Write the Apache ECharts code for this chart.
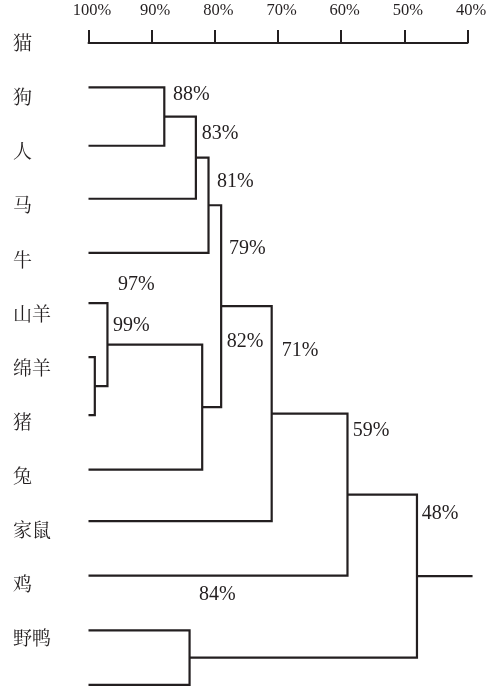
<!DOCTYPE html>
<html>
<head>
<meta charset="utf-8">
<title>细胞色素c 相似度聚类图</title>
<script src="https://cdn.jsdelivr.net/npm/echarts@6/dist/echarts.min.js"></script>
<style>
  html, body { margin: 0; padding: 0; background: #ffffff; }
  #chart { width: 490px; height: 692px; }
</style>
</head>
<body>
<div id="chart"></div>
<script>
// Species names, one per row (row 0 sits on the scale line)
const species = ['猫', '狗', '人', '马', '牛', '山羊', '绵羊', '猪', '兔', '家鼠', '鸡', '野鸭'];

// Row of every leaf branch of the tree, counted in species rows
const leafRows = [0.82, 1.9, 2.88, 3.88, 4.81, 5.81, 6.88, 7.89, 8.84, 9.85, 10.86, 11.87];

// Similarity scale ticks (%)
const scaleTicks = [100, 90, 80, 70, 60, 50, 40];

// Joins of the tree: similarity (%) and the two members joined.
// 'L' + n is leaf branch n, 'N' + n is the n-th join listed here.
const joinSimilarity = [88, 83, 81, 99, 97, 82, 79, 71, 59, 84, 48];
const joinFirst  = ['L0', 'N0', 'N1', 'L5', 'L4', 'N4', 'N2', 'N6', 'N7', 'L10', 'N8'];
const joinSecond = ['L1', 'L2', 'L3', 'L6', 'N3', 'L7', 'N5', 'L8', 'L9', 'L11', 'N9'];

// Where each similarity label sits next to its join point (pixels)
const joinLabelOffset = [
  [8.7, -22], [5.8, -23.6], [8.5, -23.4], [18.2, -60.4], [10.5, -60],
  [24.5, -65.5], [7.8, -57.3], [10, -62.8], [5.2, -63.6], [9.4, -63.3], [4.7, -62.3]
];

const INK = '#231f20';
const LEAF_START = scaleTicks[0];

// Resolve every member to its [similarity, row] point
const nodes = [];
function member(id) {
  const idx = Number(id.slice(1));
  if (id[0] === 'L') return [LEAF_START, leafRows[idx]];
  return nodes[idx];
}
const branchLines = [];
joinSimilarity.forEach((s, i) => {
  const a = member(joinFirst[i]);
  const b = member(joinSecond[i]);
  branchLines.push({ coords: [a, [s, a[1]], [s, b[1]], b] });
  nodes.push([s, (a[1] + b[1]) / 2]);
});
// stem leaving the last join, running just past the end of the scale
const lastJoin = nodes[nodes.length - 1];
branchLines.push({ coords: [lastJoin, [scaleTicks[scaleTicks.length - 1] - 0.8, lastJoin[1]]] });

const joinPoints = nodes.map((p, i) => ({
  value: p,
  label: { offset: joinLabelOffset[i] }
}));

const chart = echarts.init(document.getElementById('chart'), null, { renderer: 'canvas' });
chart.setOption({
  backgroundColor: '#ffffff',
  animation: false,
  grid: { left: 88.5, right: 22.5, top: 43, bottom: -4, containLabel: false },
  xAxis: {
    type: 'value',
    position: 'top',
    inverse: true,
    min: scaleTicks[scaleTicks.length - 1],
    max: scaleTicks[0],
    interval: 10,
    axisLine: { onZero: false, lineStyle: { color: INK, width: 2 } },
    axisTick: { show: true, length: 13, lineStyle: { color: INK, width: 2 } },
    axisLabel: {
      color: INK,
      fontFamily: 'Liberation Serif',
      fontSize: 16.5,
      margin: 24,
      padding: [0, 0, 0, 7],
      formatter: v => v + '%'
    },
    splitLine: { show: false }
  },
  yAxis: {
    type: 'value',
    inverse: true,
    min: 0,
    max: species.length,
    interval: 1,
    axisLine: { show: false },
    axisTick: { show: false },
    splitLine: { show: false },
    axisLabel: {
      color: INK,
      fontFamily: '"Noto Serif CJK SC", "Noto Sans CJK SC"',
      fontSize: 19,
      align: 'left',
      margin: 75.5,
      formatter: v => species[v] || ''
    }
  },
  series: [
    {
      type: 'lines',
      coordinateSystem: 'cartesian2d',
      polyline: true,
      clip: false,
      silent: true,
      lineStyle: { color: INK, width: 2.2, opacity: 1, cap: 'butt', join: 'miter' },
      data: branchLines
    },
    {
      type: 'scatter',
      symbolSize: 0,
      silent: true,
      itemStyle: { opacity: 1 },
      label: {
        show: true,
        position: 'right',
        distance: 0,
        color: INK,
        opacity: 1,
        fontFamily: 'Liberation Serif',
        fontSize: 20,
        align: 'left',
        verticalAlign: 'middle',
        formatter: p => p.value[0] + '%'
      },
      data: joinPoints
    }
  ]
});
</script>
</body>
</html>
